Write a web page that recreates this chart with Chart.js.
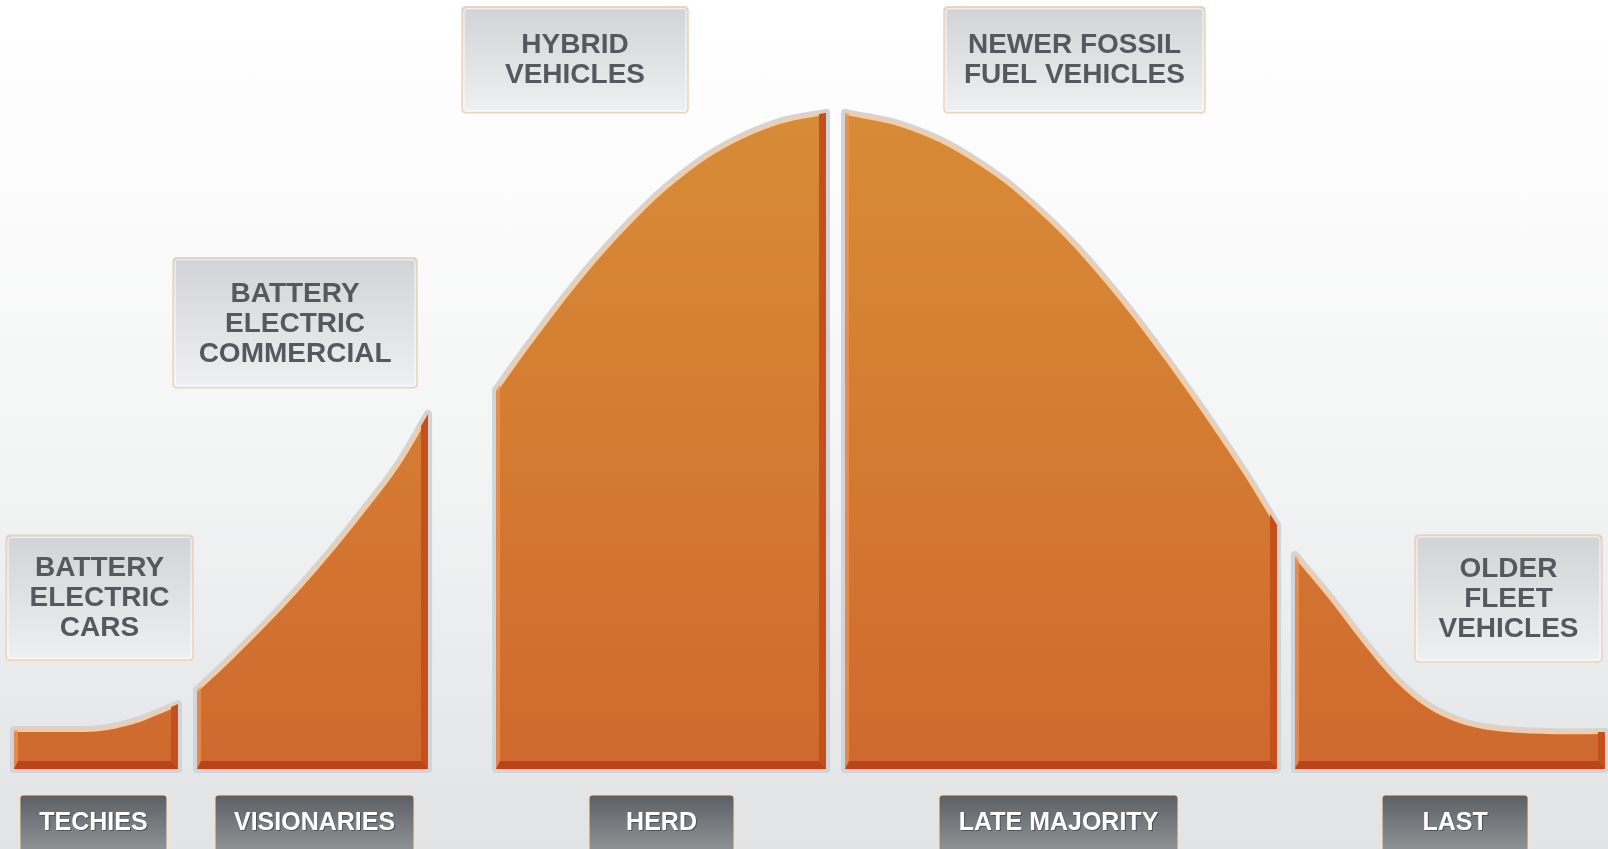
<!DOCTYPE html>
<html>
<head>
<meta charset="utf-8">
<script src="https://cdn.jsdelivr.net/npm/chart.js@4.4.1/dist/chart.umd.min.js"></script>
<style>
  html, body { margin: 0; padding: 0; }
  body {
    width: 1608px; height: 849px; overflow: hidden;
    background: linear-gradient(to bottom, #ffffff 0%, #fbfbfb 25%, #f3f4f4 55%, #e9eaeb 80%, #e1e3e4 100%);
  }
  #wrap { position: relative; width: 1608px; height: 849px; }
</style>
</head>
<body>
<div id="wrap"><canvas id="c"></canvas></div>
<script>
// ---------- DATA (x = share of population, %; y = relative adoption, peak = 100) ----------
const categories = ['TECHIES', 'VISIONARIES', 'HERD', 'LATE MAJORITY', 'LAST'];
const productLabels = [
  ['BATTERY', 'ELECTRIC', 'CARS'],
  ['BATTERY', 'ELECTRIC', 'COMMERCIAL'],
  ['HYBRID', 'VEHICLES'],
  ['NEWER FOSSIL', 'FUEL VEHICLES'],
  ['OLDER', 'FLEET', 'VEHICLES']
];

const techiesX     = [0.87, 4.17, 6.22, 8.27, 9.76, 11.07];
const techiesY     = [5.95, 5.95, 6.10, 7.16, 8.54, 9.90];

const visionariesX = [12.25, 14.30, 16.36, 18.47, 20.52, 22.57, 24.69, 26.62];
const visionariesY = [12.04, 16.77, 21.80, 27.29, 33.08, 39.33, 46.19, 54.12];

const herdX        = [30.85, 32.96, 36.07, 39.18, 42.29, 45.40, 48.51, 51.37];
const herdY        = [57.77, 64.94, 74.85, 83.38, 90.40, 95.43, 98.63, 100.0];

const lateX        = [52.55, 56.41, 60.51, 64.68, 68.84, 72.95, 77.11, 79.42];
const lateY        = [100.0, 97.87, 92.99, 85.06, 74.24, 61.13, 46.34, 37.20];

const lastX        = [80.53, 82.71, 84.76, 86.88, 88.93, 90.98, 93.10, 96.21, 99.81];
const lastY        = [32.62, 26.22, 19.66, 13.57, 9.45, 7.16, 6.10, 5.64, 5.64];

// ---------- LAYOUT (annotation placement in scale units, sizes in px) ----------
const productBoxLayout = [
  { cx: 6.19,  cy: 26.1,  w: 187, h: 125 },
  { cx: 18.35, cy: 68.0,  w: 244, h: 130 },
  { cx: 35.76, cy: 108.1, w: 226, h: 106 },
  { cx: 66.82, cy: 108.1, w: 261, h: 106 },
  { cx: 93.81, cy: 26.0,  w: 187, h: 127 }
];
const categoryBoxLayout = [
  { cx: 5.81,  w: 151 },
  { cx: 19.56, w: 203 },
  { cx: 41.14, w: 149 },
  { cx: 65.83, w: 243 },
  { cx: 90.49, w: 150 }
];
const categoryBoxTop = -3.66; // y-scale units (below baseline)

const segX = [techiesX, visionariesX, herdX, lateX, lastX];
const segY = [techiesY, visionariesY, herdY, lateY, lastY];

function fillGradient(c) {
  const a = c.chart.chartArea;
  if (!a) return '#d27a30';
  const g = c.chart.ctx.createLinearGradient(0, a.top, 0, a.bottom);
  g.addColorStop(0, '#d98f38');
  g.addColorStop(0.2, '#d78a36');
  g.addColorStop(0.6, '#d47a32');
  g.addColorStop(1, '#cf692e');
  return g;
}

const datasets = categories.map((name, i) => ({
  label: name,
  data: segX[i].map((x, k) => ({ x: x, y: segY[i][k] })),
  fill: 'origin',
  backgroundColor: fillGradient,
  borderColor: '#f5cca4',
  borderWidth: 4,
  tension: 0.4,
  pointRadius: 0,
  pointHoverRadius: 0
}));

function outlinePath(ctx, meta, base, chart) {
  const pts = meta.data;
  const first = pts[0], last = pts[pts.length - 1];
  if (meta.dataset.updateControlPoints) meta.dataset.updateControlPoints(chart.chartArea, 'x');
  ctx.beginPath();
  meta.dataset.path(ctx);
  ctx.lineTo(last.x, base);
  ctx.lineTo(first.x, base);
  ctx.closePath();
}

function rr(ctx, x, y, w, h, r) {
  ctx.beginPath();
  ctx.moveTo(x + r, y);
  ctx.lineTo(x + w - r, y);
  ctx.quadraticCurveTo(x + w, y, x + w, y + r);
  ctx.lineTo(x + w, y + h - r);
  ctx.quadraticCurveTo(x + w, y + h, x + w - r, y + h);
  ctx.lineTo(x + r, y + h);
  ctx.quadraticCurveTo(x, y + h, x, y + h - r);
  ctx.lineTo(x, y + r);
  ctx.quadraticCurveTo(x, y, x + r, y);
  ctx.closePath();
}

const bevelPlugin = {
  id: 'bevel',
  beforeDatasetsDraw(chart) {
    const ctx = chart.ctx;
    const base = chart.scales.y.getPixelForValue(0);
    chart.data.datasets.forEach((ds, i) => {
      const meta = chart.getDatasetMeta(i);
      ctx.save();
      outlinePath(ctx, meta, base, chart);
      ctx.lineJoin = 'round';
      ctx.lineWidth = 8;
      ctx.strokeStyle = '#d0d5dc';
      ctx.stroke();
      ctx.restore();
    });
  },
  afterDatasetDraw(chart, args) {
    const ctx = chart.ctx;
    const meta = args.meta;
    const base = chart.scales.y.getPixelForValue(0);
    const pts = meta.data;
    const first = pts[0], last = pts[pts.length - 1];
    ctx.save();
    outlinePath(ctx, meta, base, chart);
    ctx.clip();
    // light left edge
    ctx.fillStyle = 'rgba(236,150,88,0.7)';
    ctx.fillRect(first.x, 0, 4, base);
    // dark right edge
    ctx.fillStyle = '#c2511d';
    ctx.fillRect(last.x - 7, 0, 7, base);
    // dark bottom edge with bevelled corners
    ctx.fillStyle = '#b9431a';
    ctx.beginPath();
    ctx.moveTo(first.x, base);
    ctx.lineTo(last.x, base);
    ctx.lineTo(last.x - 7, base - 8);
    ctx.lineTo(first.x + 4, base - 8);
    ctx.closePath();
    ctx.fill();
    ctx.restore();
  },
  afterDraw(chart) {
    const ctx = chart.ctx;
    const xs = chart.scales.x, ys = chart.scales.y;
    // product boxes
    productLabels.forEach((lines, i) => {
      const L = productBoxLayout[i];
      const cx = xs.getPixelForValue(L.cx);
      const cy = ys.getPixelForValue(L.cy);
      const x = cx - L.w / 2, y = cy - L.h / 2;
      ctx.save();
      rr(ctx, x, y, L.w, L.h, 4);
      const g = ctx.createLinearGradient(0, y, 0, y + L.h);
      g.addColorStop(0, '#d1d3d6');
      g.addColorStop(1, '#eff0f1');
      ctx.fillStyle = g;
      ctx.fill();
      ctx.lineWidth = 1.5;
      ctx.strokeStyle = '#edd3bb';
      ctx.stroke();
      rr(ctx, x + 2, y + 2, L.w - 4, L.h - 4, 3);
      ctx.lineWidth = 1;
      ctx.strokeStyle = 'rgba(255,255,255,0.85)';
      ctx.stroke();
      ctx.fillStyle = '#55595e';
      ctx.font = 'bold 28px "Liberation Sans", Arial, sans-serif';
      ctx.textAlign = 'center';
      ctx.textBaseline = 'middle';
      const lh = 30;
      const start = cy - (lines.length - 1) * lh / 2 + 1;
      lines.forEach((t, k) => ctx.fillText(t, cx, start + k * lh));
      ctx.restore();
    });
    // category boxes
    categories.forEach((name, i) => {
      const L = categoryBoxLayout[i];
      const cx = xs.getPixelForValue(L.cx);
      const y = ys.getPixelForValue(categoryBoxTop);
      const h = 64, x = cx - L.w / 2;
      ctx.save();
      rr(ctx, x, y, L.w, h, 4);
      ctx.fillStyle = '#f3e1cf';
      ctx.fill();
      rr(ctx, x + 2.5, y + 2.5, L.w - 5, h - 5, 3);
      const g = ctx.createLinearGradient(0, y, 0, y + 58);
      g.addColorStop(0, '#5a5e63');
      g.addColorStop(1, '#909396');
      ctx.fillStyle = g;
      ctx.fill();
      ctx.font = 'bold 25px "Liberation Sans", Arial, sans-serif';
      ctx.textAlign = 'center';
      ctx.textBaseline = 'middle';
      ctx.fillStyle = 'rgba(40,40,40,0.5)';
      ctx.fillText(name, cx + 1, y + 31);
      ctx.fillStyle = '#ffffff';
      ctx.fillText(name, cx, y + 30);
      ctx.restore();
    });
  }
};

new Chart(document.getElementById('c'), {
  type: 'line',
  data: { datasets: datasets },
  options: {
    responsive: true,
    maintainAspectRatio: false,
    animation: false,
    layout: { padding: { top: 0, left: 0, right: 0, bottom: 80 } },
    scales: {
      x: { type: 'linear', min: 0, max: 100, display: false },
      y: { type: 'linear', min: 0, max: 117.2, display: false }
    },
    plugins: {
      legend: { display: false },
      tooltip: { enabled: false }
    },
    elements: { line: { capBezierPoints: true } }
  },
  plugins: [bevelPlugin]
});
</script>
</body>
</html>
